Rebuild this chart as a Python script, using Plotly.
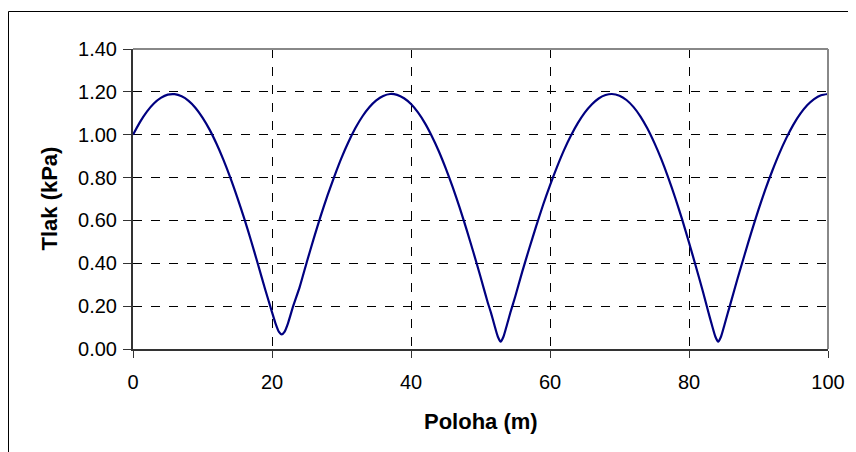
import plotly.graph_objects as go

# Position along the pipe (m) and pressure (kPa)
poloha = [0, 1, 2, 3, 4, 5, 6, 7, 8, 9, 10, 11, 12, 13, 14, 15, 16, 17, 18, 19, 20, 20.5, 21,
          21.4, 21.8, 22.3, 23, 24, 25, 26, 27, 28, 29, 30, 31, 32, 33, 34, 35, 36, 37, 38, 39,
          40, 41, 42, 43, 44, 45, 46, 47, 48, 49, 50, 51, 51.5, 52, 52.5, 52.9, 53.3, 53.8,
          54.3, 55, 56, 57, 58, 59, 60, 61, 62, 63, 64, 65, 66, 67, 68, 68.9, 70, 71, 72, 73,
          74, 75, 76, 77, 78, 79, 80, 81, 82, 82.8, 83.3, 83.8, 84.2, 84.6, 85.1, 85.6, 86, 87,
          88, 89, 90, 91, 92, 93, 94, 95, 96, 97, 98, 99, 100]
tlak = [1.000, 1.059, 1.108, 1.146, 1.172, 1.187, 1.189, 1.179, 1.158, 1.125, 1.080, 1.025,
        0.959, 0.884, 0.800, 0.708, 0.610, 0.504, 0.393, 0.280, 0.172, 0.120, 0.080, 0.068,
        0.080, 0.120, 0.195, 0.291, 0.405, 0.515, 0.620, 0.718, 0.808, 0.892, 0.966, 1.031,
        1.085, 1.128, 1.160, 1.181, 1.190, 1.186, 1.170, 1.143, 1.104, 1.054, 0.993, 0.923,
        0.843, 0.755, 0.660, 0.557, 0.449, 0.337, 0.222, 0.170, 0.112, 0.057, 0.034, 0.057,
        0.112, 0.170, 0.245, 0.360, 0.468, 0.572, 0.672, 0.764, 0.849, 0.927, 0.995, 1.054,
        1.103, 1.141, 1.169, 1.185, 1.190, 1.182, 1.162, 1.130, 1.086, 1.030, 0.963, 0.887,
        0.801, 0.707, 0.606, 0.497, 0.384, 0.268, 0.170, 0.112, 0.057, 0.034, 0.057, 0.112,
        0.170, 0.215, 0.330, 0.440, 0.548, 0.650, 0.746, 0.833, 0.913, 0.984, 1.046, 1.097,
        1.137, 1.166, 1.184, 1.190]

x_ticks = [0, 20, 40, 60, 80, 100]
y_ticks = [0.0, 0.2, 0.4, 0.6, 0.8, 1.0, 1.2, 1.4]
y_labels = ["0.00", "0.20", "0.40", "0.60", "0.80", "1.00", "1.20", "1.40"]
x_title = "Poloha (m)"
y_title = "Tlak (kPa)"

FONT = "Liberation Sans, Arial, sans-serif"

# the page body adds an 8px margin, so the figure is drawn 8px smaller / shifted
OFF = 8
W, H = 856 - OFF, 452 - OFF
L, T = 133 - OFF, 49 - OFF
R = W - (828 - OFF)
B = H - (349 - OFF)
pw, ph = W - L - R, H - T - B

fig = go.Figure()
fig.add_trace(go.Scatter(x=poloha, y=tlak, mode="lines",
                         line=dict(color="#000080", width=2.2, shape="spline", smoothing=0.6),
                         hoverinfo="x+y", showlegend=False))

fig.update_layout(
    width=W, height=H,
    margin=dict(l=L, r=R, t=T, b=B),
    paper_bgcolor="white", plot_bgcolor="white",
    font=dict(family=FONT, size=20, color="black"),
    showlegend=False,
    xaxis=dict(range=[0, 100], tickvals=x_ticks, ticktext=[str(v) for v in x_ticks],
               showgrid=True, gridcolor="#000000", griddash="dash", gridwidth=1,
               showline=True, linecolor="#333333", linewidth=2,
               ticks="outside", ticklen=7, tickcolor="#333333", tickwidth=1,
               ticklabelstandoff=7, zeroline=False, fixedrange=True),
    yaxis=dict(range=[0, 1.4], tickvals=y_ticks, ticktext=y_labels,
               showgrid=True, gridcolor="#000000", griddash="dash", gridwidth=1,
               showline=True, linecolor="#333333", linewidth=2,
               ticks="outside", ticklen=8, tickcolor="#333333", tickwidth=1,
               ticklabelstandoff=2, zeroline=False, fixedrange=True),
)

# top and right plot-area borders (grey)
fig.add_shape(type="line", xref="paper", yref="paper", x0=0, x1=1, y0=1, y1=1,
              line=dict(color="#888888", width=2))
fig.add_shape(type="line", xref="paper", yref="paper", x0=1, x1=1, y0=0, y1=1,
              line=dict(color="#888888", width=2))

# helpers: reference-picture pixel -> paper coordinates
def px_x(p):
    return (p - OFF - L) / pw

def px_y(p):
    return (H - B - (p - OFF)) / ph

# outer chart frame
fig.add_shape(type="rect", xref="paper", yref="paper",
              x0=px_x(8.5), x1=px_x(880), y0=px_y(480), y1=px_y(11.5),
              line=dict(color="black", width=1), fillcolor="rgba(0,0,0,0)", layer="below")

fig.add_annotation(text=f"<b>{x_title}</b>", xref="paper", yref="paper",
                   x=0.5, y=px_y(421), xanchor="center", yanchor="middle",
                   showarrow=False, font=dict(family=FONT, size=22, color="black"))
fig.add_annotation(text=f"<b>{y_title}</b>", xref="paper", yref="paper",
                   x=px_x(48.5), y=0.5, xanchor="center", yanchor="middle",
                   textangle=-90, showarrow=False,
                   font=dict(family=FONT, size=22, color="black"))

fig.write_html("out.html")
